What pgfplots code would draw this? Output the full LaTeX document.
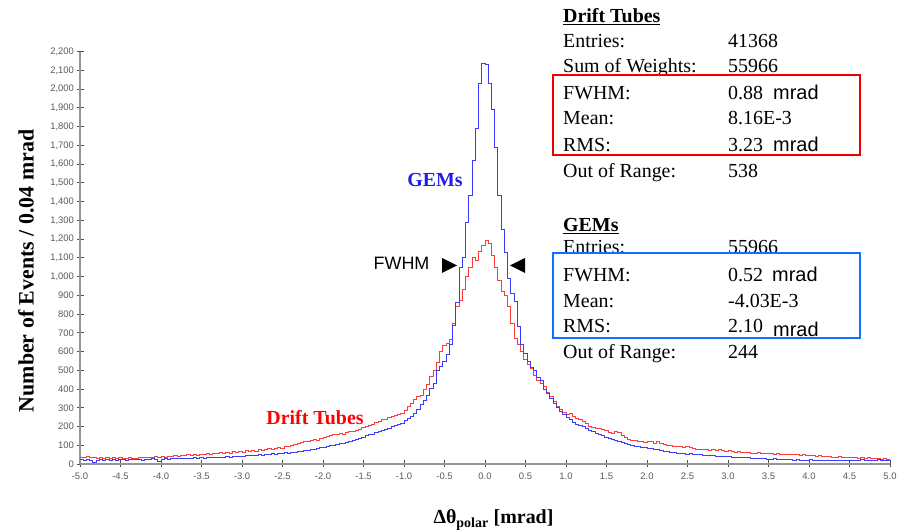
\documentclass[border=0pt]{standalone}
\usepackage{pgfplots}
\pgfplotsset{compat=1.18}
\usepackage{pgfplotstable}
\usepackage{fontspec}
\setmainfont{Liberation Serif}
\setsansfont{Liberation Sans}
\definecolor{gemblue}{RGB}{60,60,255}
\definecolor{dtred}{RGB}{255,60,60}
\definecolor{axisgray}{RGB}{150,150,150}
\definecolor{tickgray}{RGB}{80,80,80}
\definecolor{labelgray}{RGB}{90,90,90}
\definecolor{boxred}{RGB}{240,0,0}
\definecolor{boxblue}{RGB}{20,110,255}
\definecolor{txtblue}{RGB}{30,30,230}
\definecolor{txtred}{RGB}{255,0,0}
\newcommand\st{\fontsize{20}{24}\selectfont}
\pgfplotstableread[row sep=\\]{
x dt gem\\
-5.00 36 22\\ -4.96 34 20\\ -4.92 38 23\\ -4.88 35 21\\ -4.84 33 8\\
-4.80 30 19\\ -4.76 34 22\\ -4.72 31 20\\ -4.68 33 23\\ -4.64 30 21\\
-4.60 32 24\\ -4.56 29 20\\ -4.52 33 22\\ -4.48 31 25\\ -4.44 30 21\\
-4.40 34 23\\ -4.36 31 26\\ -4.32 30 22\\ -4.28 33 24\\ -4.24 32 20\\
-4.20 35 25\\ -4.16 33 23\\ -4.12 36 27\\ -4.08 38 22\\ -4.04 34 14\\
-4.00 40 26\\ -3.96 37 28\\ -3.92 42 25\\ -3.88 39 29\\ -3.84 44 27\\
-3.80 41 30\\ -3.76 45 27\\ -3.72 43 31\\ -3.68 48 29\\ -3.64 46 28\\
-3.60 50 32\\ -3.56 47 30\\ -3.52 53 33\\ -3.48 49 31\\ -3.44 55 34\\
-3.40 52 33\\ -3.36 57 36\\ -3.32 54 34\\ -3.28 60 37\\ -3.24 56 35\\
-3.20 62 38\\ -3.16 58 36\\ -3.12 65 40\\ -3.08 61 39\\ -3.04 67 42\\
-3.00 64 41\\ -2.96 70 44\\ -2.92 66 43\\ -2.88 73 47\\ -2.84 69 45\\
-2.80 75 49\\ -2.76 71 47\\ -2.72 78 52\\ -2.68 82 50\\ -2.64 76 54\\
-2.60 84 53\\ -2.56 88 57\\ -2.52 85 55\\ -2.48 92 60\\ -2.44 96 58\\
-2.40 100 62\\ -2.36 104 64\\ -2.32 110 66\\ -2.28 114 69\\ -2.24 118 71\\
-2.20 122 74\\ -2.16 126 77\\ -2.12 130 80\\ -2.08 128 83\\ -2.04 136 86\\
-2.00 140 89\\ -1.96 145 93\\ -1.92 150 97\\ -1.88 155 101\\ -1.84 160 104\\
-1.80 164 108\\ -1.76 160 112\\ -1.72 168 117\\ -1.68 172 121\\ -1.64 176 126\\
-1.60 180 132\\ -1.56 186 137\\ -1.52 195 144\\ -1.48 199 150\\ -1.44 205 157\\
-1.40 212 160\\ -1.36 220 166\\ -1.32 228 172\\ -1.28 235 178\\ -1.24 240 183\\
-1.20 248 190\\ -1.16 252 198\\ -1.12 258 203\\ -1.08 265 210\\ -1.04 272 218\\
-1.00 285 230\\ -0.96 305 242\\ -0.92 325 255\\ -0.88 345 268\\ -0.84 360 290\\
-0.80 368 318\\ -0.76 400 340\\ -0.72 422 368\\ -0.68 466 405\\ -0.64 500 432\\
-0.60 540 500\\ -0.56 600 520\\ -0.52 630 545\\ -0.48 645 585\\ -0.44 665 635\\
-0.40 750 740\\ -0.36 840 860\\ -0.32 870 1050\\ -0.28 930 1100\\ -0.24 1000 1290\\
-0.20 1050 1430\\ -0.16 1100 1620\\ -0.12 1085 1790\\ -0.08 1135 2030\\ -0.04 1165 2135\\
0.00 1195 2130\\ 0.04 1175 2030\\ 0.08 1110 1890\\ 0.12 1050 1690\\ 0.16 980 1435\\
0.20 920 1250\\ 0.24 900 1130\\ 0.28 840 990\\ 0.32 750 910\\ 0.36 670 865\\
0.40 635 735\\ 0.44 600 640\\ 0.48 555 590\\ 0.52 530 545\\ 0.56 510 515\\
0.60 470 500\\ 0.64 448 460\\ 0.68 430 445\\ 0.72 412 400\\ 0.76 380 378\\
0.80 360 350\\ 0.84 335 325\\ 0.88 306 300\\ 0.92 290 280\\ 0.96 275 265\\
1.00 262 250\\ 1.04 268 235\\ 1.08 255 222\\ 1.12 245 212\\ 1.16 235 203\\
1.20 228 198\\ 1.24 215 188\\ 1.28 200 180\\ 1.32 195 172\\ 1.36 190 164\\
1.40 192 157\\ 1.44 186 150\\ 1.48 180 140\\ 1.52 170 137\\ 1.56 165 130\\
1.60 172 125\\ 1.64 166 119\\ 1.68 150 115\\ 1.72 140 110\\ 1.76 130 104\\
1.80 128 100\\ 1.84 124 96\\ 1.88 120 92\\ 1.92 119 90\\ 1.96 116 87\\
2.00 121 84\\ 2.04 118 82\\ 2.08 112 78\\ 2.12 119 75\\ 2.16 108 72\\
2.20 104 68\\ 2.24 101 66\\ 2.28 99 64\\ 2.32 96 61\\ 2.36 93 58\\
2.40 95 57\\ 2.44 90 55\\ 2.48 92 53\\ 2.52 86 54\\ 2.56 82 51\\
2.60 80 49\\ 2.64 77 50\\ 2.68 75 47\\ 2.72 78 46\\ 2.76 73 44\\
2.80 76 45\\ 2.84 72 42\\ 2.88 75 41\\ 2.92 70 40\\ 2.96 68 38\\
3.00 71 39\\ 3.04 66 36\\ 3.08 64 35\\ 3.12 67 37\\ 3.16 62 33\\
3.20 60 32\\ 3.24 63 34\\ 3.28 58 30\\ 3.32 57 29\\ 3.36 60 31\\
3.40 55 28\\ 3.44 58 27\\ 3.48 54 26\\ 3.52 57 25\\ 3.56 52 27\\
3.60 56 24\\ 3.64 51 23\\ 3.68 53 25\\ 3.72 49 22\\ 3.76 52 23\\
3.80 48 21\\ 3.84 50 22\\ 3.88 46 20\\ 3.92 48 21\\ 3.96 45 19\\
4.00 47 22\\ 4.04 43 20\\ 4.08 41 18\\ 4.12 44 21\\ 4.16 40 19\\
4.20 38 17\\ 4.24 41 20\\ 4.28 37 18\\ 4.32 36 19\\ 4.36 39 17\\
4.40 35 16\\ 4.44 33 18\\ 4.48 36 20\\ 4.52 32 19\\ 4.56 34 21\\
4.60 31 20\\ 4.64 33 22\\ 4.68 30 21\\ 4.72 32 20\\ 4.76 29 19\\
4.80 31 21\\ 4.84 28 22\\ 4.88 26 20\\ 4.92 29 19\\ 4.96 24 18\\
5.00 24 18\\
}\histdata
\begin{document}
\begin{tikzpicture}[x=1bp,y=1bp]
\path[use as bounding box] (0,0) rectangle (906,530);
\begin{axis}[
  at={(80bp,66bp)}, anchor=south west, scale only axis,
  width=810bp, height=412.3bp,
  xmin=-5, xmax=5, ymin=0, ymax=2200,
  axis lines*=left,
  axis line style={draw=axisgray, line width=1.8bp},
  tick align=center, major tick length=7bp,
  tick style={draw=tickgray, line width=0.9bp},
  xtick={-5,-4.5,-4,-3.5,-3,-2.5,-2,-1.5,-1,-0.5,0,0.5,1,1.5,2,2.5,3,3.5,4,4.5,5},
  xticklabels={-5.0,-4.5,-4.0,-3.5,-3.0,-2.5,-2.0,-1.5,-1.0,-0.5,0.0,0.5,1.0,1.5,2.0,2.5,3.0,3.5,4.0,4.5,5.0},
  ytick={0,100,200,300,400,500,600,700,800,900,1000,1100,1200,1300,1400,1500,1600,1700,1800,1900,2000,2100,2200},
  yticklabels={0,100,200,300,400,500,600,700,800,900,{1,000},{1,100},{1,200},{1,300},{1,400},{1,500},{1,600},{1,700},{1,800},{1,900},{2,000},{2,100},{2,200}},
  ticklabel style={font=\sffamily\fontsize{9.5}{10}\selectfont, text=labelgray},
  xticklabel style={yshift=-2bp},
  yticklabel style={xshift=1bp},
]
\addplot[const plot, draw=dtred, line width=1bp] table[x=x,y=dt]{\histdata};
\addplot[const plot, draw=gemblue, line width=1bp] table[x=x,y=gem]{\histdata};
\end{axis}
% axis titles
\node[rotate=90, anchor=base, inner sep=0] at (33.5,259) {\fontsize{22}{26}\selectfont\bfseries Number of Events / 0.04 mrad};
\node[anchor=base, inner sep=0] at (493.5,6) {\fontsize{20}{24}\selectfont\bfseries Δθ\textsubscript{polar} [mrad]};
% annotations
\node[anchor=base, inner sep=0, text=txtblue] at (435,343) {\st\bfseries GEMs};
\node[anchor=base, inner sep=0, text=txtred] at (315,105) {\st\bfseries Drift Tubes};
\node[anchor=base, inner sep=0] at (401.5,260) {\sffamily\fontsize{18}{20}\selectfont FWHM};
\fill (442,272) -- (442,257) -- (457,264.5) -- cycle;
\fill (525,272) -- (525,257) -- (510,264.5) -- cycle;
% stats Drift Tubes
\begin{scope}[every node/.style={anchor=base west, inner sep=0}]
\node at (563,507) {\st\bfseries\underline{Drift Tubes}};
\node at (563,482) {\st Entries:};
\node at (728,482) {\st 41368};
\node at (563,457) {\st Sum of Weights:};
\node at (728,457) {\st 55966};
\draw[boxred, line width=2bp, fill=white] (553.3,455) rectangle (860,375);
\node at (563,430) {\st FWHM:};
\node at (728,430) {\st 0.88};
\node at (773,430) {\sffamily\st mrad};
\node at (563,405) {\st Mean:};
\node at (728,405) {\st 8.16E-3};
\node at (563,378) {\st RMS:};
\node at (728,378) {\st 3.23};
\node at (773,378) {\sffamily\st mrad};
\node at (563,352) {\st Out of Range:};
\node at (728,352) {\st 538};
% stats GEMs
\node at (563,298.3) {\st\bfseries\underline{GEMs}};
\node at (563,276) {\st Entries:};
\node at (728,276) {\st 55966};
\draw[boxblue, line width=2bp, fill=white] (553.3,276.7) rectangle (860,191.7);
\node at (563,248.3) {\st FWHM:};
\node at (728,248.3) {\st 0.52};
\node at (772,248.3) {\sffamily\st mrad};
\node at (563,222) {\st Mean:};
\node at (728,222) {\st -4.03E-3};
\node at (563,197) {\st RMS:};
\node at (728,197) {\st 2.10};
\node at (773,193.3) {\sffamily\st mrad};
\node at (563,171.5) {\st Out of Range:};
\node at (728,171.5) {\st 244};
\end{scope}
\end{tikzpicture}
\end{document}
